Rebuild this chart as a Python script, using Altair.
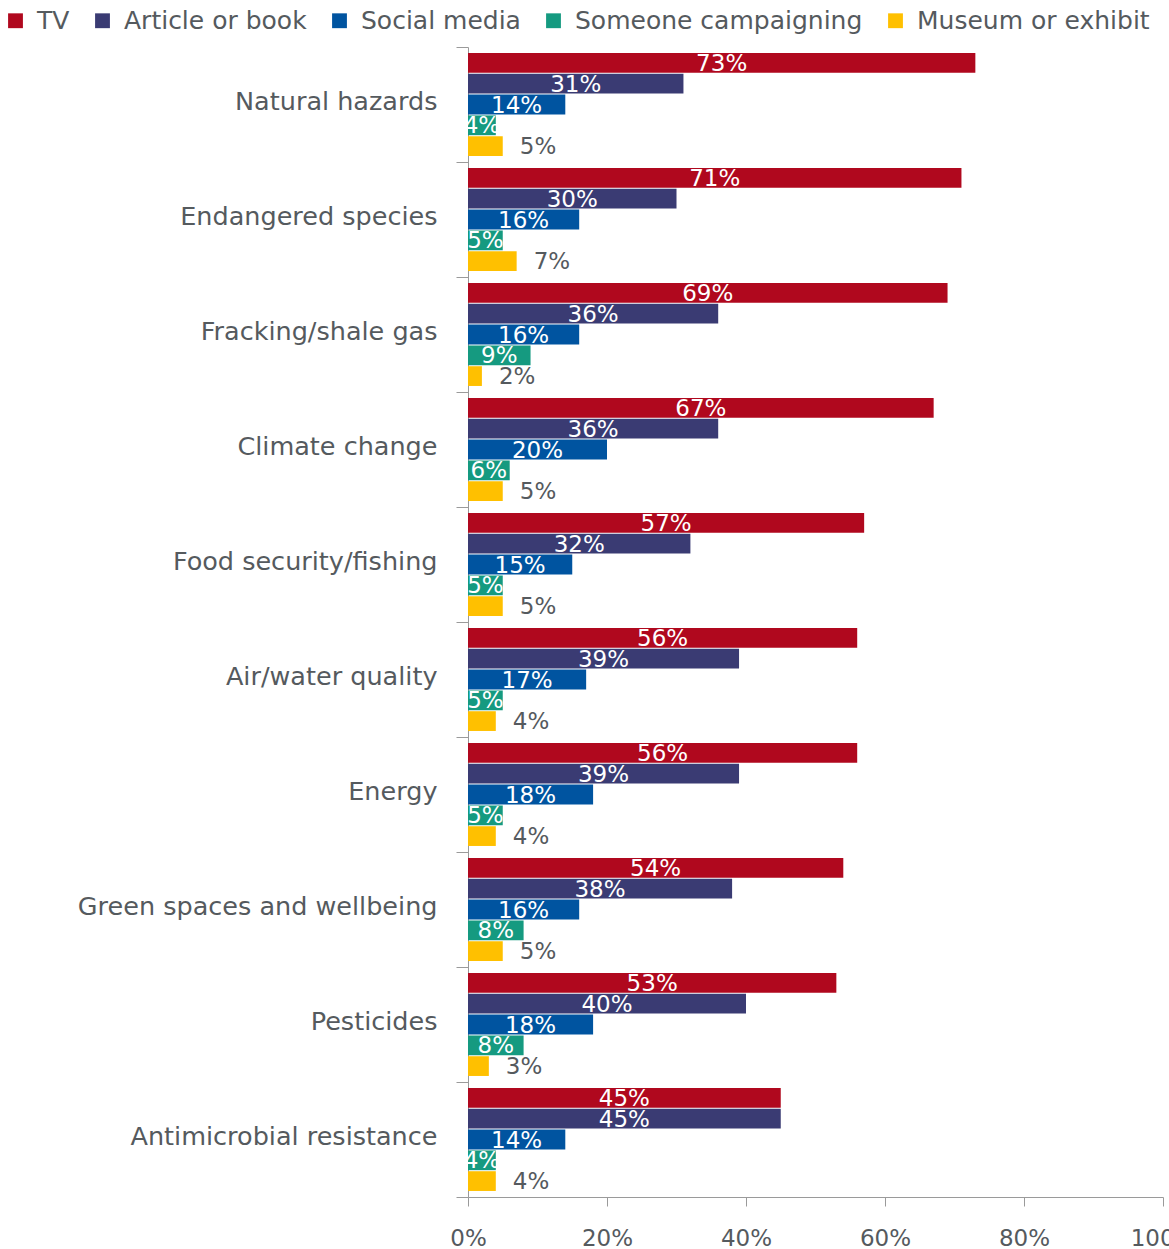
import altair as alt
import pandas as pd

categories = [
    "Natural hazards", "Endangered species", "Fracking/shale gas", "Climate change",
    "Food security/fishing", "Air/water quality", "Energy",
    "Green spaces and wellbeing", "Pesticides", "Antimicrobial resistance",
]
series = ["TV", "Article or book", "Social media", "Someone campaigning", "Museum or exhibit"]
colors = ["#B0081E", "#3A3B73", "#0054A0", "#159A80", "#FFC000"]

tv = [73, 71, 69, 67, 57, 56, 56, 54, 53, 45]
article = [31, 30, 36, 36, 32, 39, 39, 38, 40, 45]
social = [14, 16, 16, 20, 15, 17, 18, 16, 18, 14]
someone = [4, 5, 9, 6, 5, 5, 5, 8, 8, 4]
museum = [5, 7, 2, 5, 5, 4, 4, 5, 3, 4]

rows = []
for s, vals in zip(series, [tv, article, social, someone, museum]):
    for c, v in zip(categories, vals):
        rows.append({"category": c, "series": s, "value": v / 100.0,
                     "label": f"{v}%", "order": series.index(s)})
df = pd.DataFrame(rows)

FONT = "DejaVu Sans"
GRAY = "#555A5E"
AXIS = "#9A9A9A"

y_enc = alt.Y("category:N", sort=categories, title=None,
              scale=alt.Scale(paddingInner=0, paddingOuter=0),
              axis=alt.Axis(tickBand="extent", tickSize=12, labelPadding=19, labelOffset=-3,
                            labelFontSize=25.5, labelFont=FONT, labelColor=GRAY,
                            domainColor=AXIS, tickColor=AXIS, labelLimit=500))
yoff = alt.YOffset("series:N", sort=series,
                   scale=alt.Scale(paddingInner=0.05, paddingOuter=0.29))
x_enc = alt.X("value:Q", title=None,
              scale=alt.Scale(domain=[0, 1], nice=False),
              axis=alt.Axis(format=".0%", values=[0, 0.2, 0.4, 0.6, 0.8, 1.0],
                            grid=False, tickSize=9, labelPadding=21,
                            labelFontSize=23, labelFont=FONT, labelColor=GRAY,
                            domainColor=AXIS, tickColor=AXIS, labelFlush=False))

color_enc = alt.Color("series:N", sort=series,
                      scale=alt.Scale(domain=series, range=colors),
                      legend=alt.Legend(title=None, orient="none", direction="horizontal",
                                        legendX=-465, legendY=-39,
                                        symbolType="square", symbolSize=220,
                                        symbolStrokeWidth=0, symbolOpacity=1,
                                        labelFontSize=25, labelFont=FONT, labelColor=GRAY,
                                        columnPadding=20, labelOffset=9, labelLimit=500))

base = alt.Chart(df)

bars = base.mark_bar(opacity=1).encode(y=y_enc, yOffset=yoff, x=x_enc, color=color_enc)

inner = base.transform_filter(alt.datum.series != "Museum or exhibit").transform_calculate(
    mid="datum.value / 2"
).mark_text(color="white", fontSize=23, font=FONT, baseline="middle", dy=1, clip=True).encode(
    y=alt.Y("category:N", sort=categories),
    yOffset=alt.YOffset("series:N", sort=series),
    x=alt.X("mid:Q"),
    text="label:N",
)

outer = base.transform_filter(alt.datum.series == "Museum or exhibit").mark_text(
    color=GRAY, fontSize=23, font=FONT, baseline="middle", align="left", dx=17, dy=1
).encode(
    y=alt.Y("category:N", sort=categories),
    yOffset=alt.YOffset("series:N", sort=series),
    x=alt.X("value:Q"),
    text="label:N",
)

chart = alt.layer(bars, inner, outer).properties(
    width=695, height=1150,
    autosize=alt.AutoSizeParams(type="none"),
    padding={"left": 468, "top": 47, "right": 6, "bottom": 52},
).configure_view(stroke=None).configure_axis(labelFont=FONT)

chart.save("out.html", embed_options={"renderer": "svg", "actions": False})
